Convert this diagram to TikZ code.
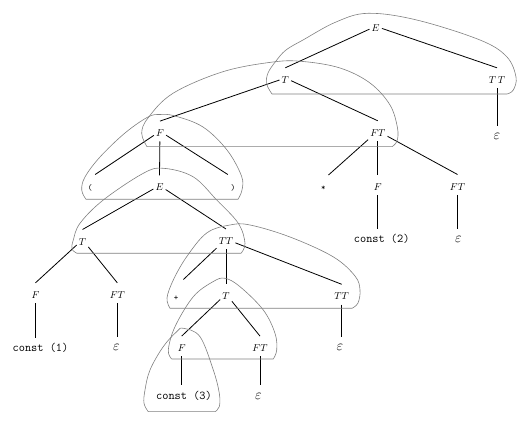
\documentclass[tikz,border=0pt]{standalone}
\begin{document}
\begin{tikzpicture}[x=1pt,y=-1pt,
  lab/.style={anchor=base, yshift=-3.4pt, inner xsep=2pt, inner ysep=0pt, text height=15.4pt, text depth=4.6pt},
  leaf/.style={lab, text height=13.4pt},
  sym/.style={lab, minimum width=10pt, font=\ttfamily\fontsize{8.5}{10}\selectfont},
  ctt/.style={leaf, font=\ttfamily\fontsize{12}{14}\selectfont},
  eps/.style={leaf, font=\fontsize{14}{16}\selectfont},
  edge/.style={line width=0.8pt},
  blob/.style={draw=gray, line width=0.6pt}]
\useasboundingbox (0,0) rectangle (528,427);

% nodes
\node[lab] (E)   at (375.7,28.3) {$E$};
\node[lab] (T1)  at (285.3,80) {$T$};
\node[lab] (TT1) at (497,80) {$T\,T$};
\node[eps] (e1)  at (497,136) {$\varepsilon$};
\node[lab] (F1)  at (160,133.3) {$F$};
\node[lab] (FT1) at (377.8,133) {$FT$};
\node[sym] (lp)  at (90,186.7) {(};
\node[lab] (E2)  at (159.5,187.5) {$E$};
\node[sym] (rp)  at (233,186.7) {)};
\node[sym] (star) at (323.3,187.2) {*};
\node[lab] (F2)  at (377.8,187.2) {$F$};
\node[lab] (FT2) at (457.5,186.7) {$FT$};
\node[ctt] (c2)  at (381.7,239.5) {const (2)};
\node[eps] (e2)  at (458.3,239.5) {$\varepsilon$};
\node[lab] (T2)  at (82.5,241.7) {$T$};
\node[lab] (TT2) at (226,241.2) {$TT$};
\node[lab] (F3)  at (35.5,295) {$F$};
\node[lab] (FT3) at (117.3,295) {$FT$};
\node[sym, text height=20.4pt, minimum width=14pt] (plus) at (176.2,296.7) {+};
\node[lab] (T3)  at (226,296) {$T$};
\node[lab] (TT3) at (341.7,296.5) {$TT$};
\node[ctt] (c1)  at (40.5,348.3) {const (1)};
\node[eps] (e3)  at (116.5,347.3) {$\varepsilon$};
\node[lab] (F4)  at (181.7,348.3) {$F$};
\node[lab] (FT4) at (260,348.3) {$FT$};
\node[eps] (e4)  at (340,347.3) {$\varepsilon$};
\node[ctt] (c3)  at (184,395.7) {const (3)};
\node[eps] (e5)  at (258.5,395.7) {$\varepsilon$};

% edges
\draw[edge] (E) -- (T1.north);
\draw[edge] (E) -- (TT1.north);
\draw[edge] (TT1) -- (TT1 |- e1.north);
\draw[edge] (T1) -- (F1.north);
\draw[edge] (T1) -- (FT1.north);
\draw[edge] (F1) -- (lp.north east);
\draw[edge] (F1) -- (E2.north);
\draw[edge] (F1) -- (rp.north west);
\draw[edge] (FT1) -- (star.north east);
\draw[edge] (FT1) -- (F2.north);
\draw[edge] (FT1) -- (FT2.north);
\draw[edge] (F2) -- (F2 |- c2.north);
\draw[edge] (FT2) -- (FT2 |- e2.north);
\draw[edge] (E2) -- (T2.north);
\draw[edge] (E2) -- (TT2.north);
\draw[edge] (T2) -- (F3.north);
\draw[edge] (T2) -- (FT3.north);
\draw[edge] (F3) -- (F3 |- c1.north);
\draw[edge] (FT3) -- (FT3 |- e3.north);
\draw[edge] (TT2) -- (plus.north east);
\draw[edge] (TT2) -- (T3.north);
\draw[edge] (TT2) -- (TT3.north);
\draw[edge] (TT3) -- (TT3 |- e4.north);
\draw[edge] (T3) -- (F4.north);
\draw[edge] (T3) -- (FT4.north);
\draw[edge] (F4) -- (F4 |- c3.north);
\draw[edge] (FT4) -- (FT4 |- e5.north);

% production outlines
\draw[blob] plot[smooth, tension=0.6] coordinates {(507,94) (513.3,90) (516,77) (506.7,56.7) (480,40) (416.7,20) (368,13.3) (336,22) (303,40) (286,50) (276,61) (268,73) (266.7,84) (272,94)} -- cycle;
\draw[blob] plot[smooth, tension=0.6] coordinates {(392,146.7) (397,141) (397.5,128) (390,105) (370,83) (340,68) (303,61.5) (273,62) (223,71.7) (173,93.3) (148,118) (141.7,133.3) (147,146.7)} -- cycle;
\draw[blob] plot[smooth, tension=0.6] coordinates {(238,199.3) (242,190) (241.5,176) (227,150) (203,127) (175,116) (160,114.5) (148,117) (125,133) (100,157) (85,177) (81.7,190) (86,199.3)} -- cycle;
\draw[blob] plot[smooth, tension=0.6] coordinates {(241,253.3) (245,243.3) (238.3,223.3) (216.7,200) (193,176.7) (163.3,168.3) (143.3,173.3) (103.3,200) (80,223.3) (73.3,240) (72,249) (77,253.3)} -- cycle;
\draw[blob] plot[smooth, tension=0.6] coordinates {(352,308.3) (358,303) (360,290) (355,276) (333,256.7) (290,237) (250,225) (230,225) (206.7,233) (186.7,256.7) (173.3,280) (167,298) (170,308.3)} -- cycle;
\draw[blob] plot[smooth, tension=0.6] coordinates {(273.3,359) (276.7,350) (275,333.3) (263.3,310) (240,286.7) (225,278.3) (213,281.7) (193.3,296.7) (175,326.7) (168.3,350) (171.7,359)} -- cycle;
\draw[blob] plot[smooth, tension=0.6] coordinates {(215,411.7) (219.3,406.7) (219.3,393.3) (213.3,370) (200,336.7) (183.3,328.3) (176.7,331.7) (163,347) (150,370) (145,390) (144,403.3) (148.3,411.7)} -- cycle;
\end{tikzpicture}
\end{document}
